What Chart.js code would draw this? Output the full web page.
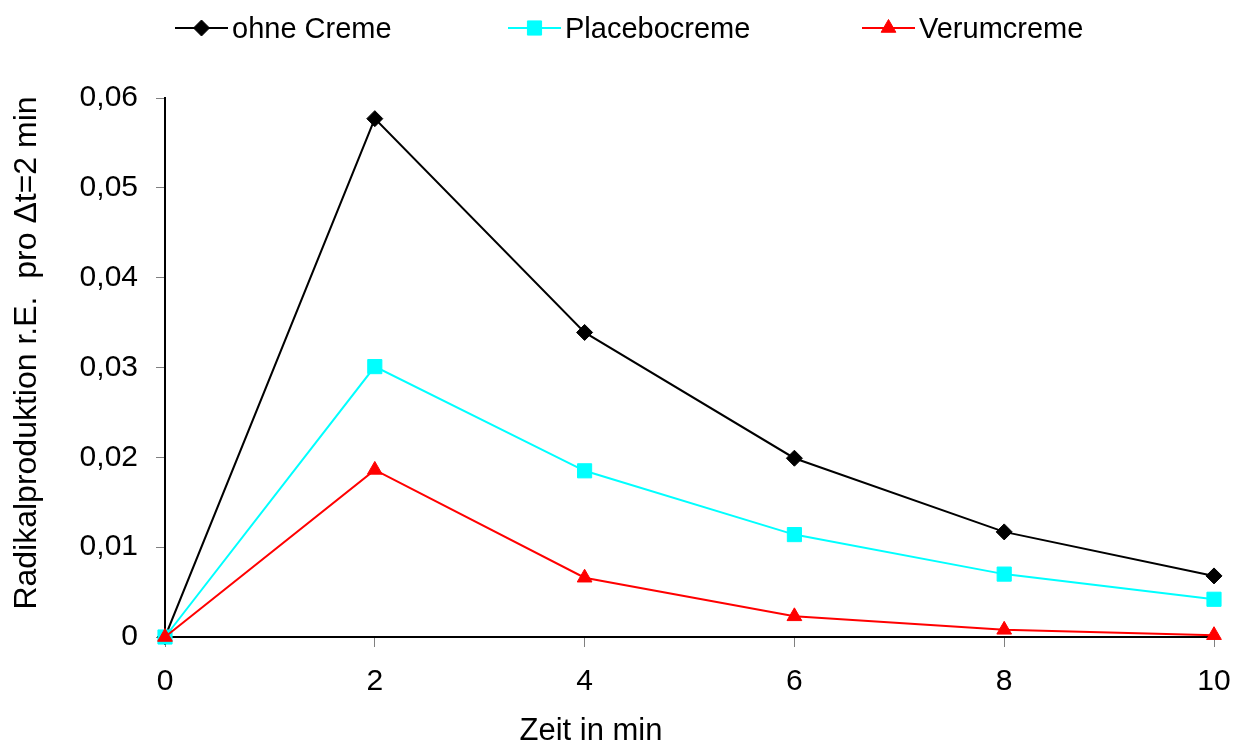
<!DOCTYPE html>
<html>
<head>
<meta charset="utf-8">
<script src="https://cdn.jsdelivr.net/npm/chart.js@4/dist/chart.umd.min.js"></script>
<style>
  html, body { margin: 0; padding: 0; background: #fff; }
  #wrap { width: 1242px; height: 744px; }
</style>
</head>
<body>
<div id="wrap"><canvas id="radChart" width="1242" height="744"></canvas></div>
<script>
// values
var zeit = [0, 2, 4, 6, 8, 10];
var ohneCreme = [0, 0.0577, 0.0339, 0.0199, 0.0117, 0.0068];
var placebocreme = [0, 0.0301, 0.0185, 0.0114, 0.0070, 0.0042];
var verumcreme = [0, 0.0186, 0.0066, 0.0023, 0.0008, 0.0002];
var seriesNames = ['ohne Creme', 'Placebocreme', 'Verumcreme'];
var yTitle = 'Radikalproduktion r.E.  pro \u0394t=2 min';
var xTitle = 'Zeit in min';

var FONT = '"Liberation Sans", Arial, sans-serif';

function toPoints(vals) {
    return vals.map(function (v, i) { return { x: zeit[i], y: v }; });
}

// legend (short line with the marker in the middle) and the axis titles
var extraText = {
    id: 'extraText',
    afterDraw: function (chart) {
        var c = chart.ctx;
        var starts = [175, 508, 862];
        c.save();
        chart.data.datasets.forEach(function (ds, i) {
            var x0 = starts[i], x1 = x0 + 53, y = 28;
            c.strokeStyle = ds.borderColor;
            c.lineWidth = 2;
            c.beginPath();
            c.moveTo(x0, y);
            c.lineTo(x1, y);
            c.stroke();
            c.fillStyle = ds.backgroundColor;
            c.lineWidth = 1;
            Chart.helpers.drawPoint(c, { pointStyle: ds.pointStyle, radius: ds.pointRadius, borderWidth: 1 }, (x0 + x1) / 2, y);
            c.fillStyle = '#000';
            c.font = '29px ' + FONT;
            c.textAlign = 'left';
            c.textBaseline = 'alphabetic';
            c.fillText(ds.label, x1 + 4, 38);
        });
        c.font = '31px ' + FONT;
        c.fillStyle = '#000';
        c.textAlign = 'center';
        c.fillText(xTitle, 591, 740);
        c.translate(36, 353);
        c.rotate(-Math.PI / 2);
        c.font = '32px ' + FONT;
        c.fillText(yTitle, 0, 0);
        c.restore();
    }
};

var ctx = document.getElementById('radChart').getContext('2d');
var radChart = new Chart(ctx, {
    type: 'line',
    data: {
        datasets: [{
            label: seriesNames[0],
            data: toPoints(ohneCreme),
            borderColor: '#000000',
            backgroundColor: '#000000',
            pointStyle: 'rectRot',
            pointRadius: 8,
            order: 3
        }, {
            label: seriesNames[1],
            data: toPoints(placebocreme),
            borderColor: '#00FFFF',
            backgroundColor: '#00FFFF',
            pointStyle: 'rect',
            pointRadius: 10,
            order: 2
        }, {
            label: seriesNames[2],
            data: toPoints(verumcreme),
            borderColor: '#FF0000',
            backgroundColor: '#FF0000',
            pointStyle: 'triangle',
            pointRadius: 8.5,
            order: 1
        }]
    },
    options: {
        responsive: false,
        animation: false,
        devicePixelRatio: 1,
        layout: {
            padding: { left: 0, top: 98, right: 28, bottom: 0 }
        },
        elements: {
            line: { borderWidth: 2, tension: 0 },
            point: { borderWidth: 1 }
        },
        datasets: {
            line: { clip: false }
        },
        plugins: {
            legend: { display: false },
            tooltip: { enabled: false }
        },
        scales: {
            x: {
                type: 'linear',
                min: 0,
                max: 10,
                afterFit: function (scale) {
                    scale.height = 107;
                    scale.paddingLeft = 0;
                    scale.paddingRight = 0;
                },
                border: { display: true, color: '#000', width: 2 },
                grid: {
                    drawOnChartArea: false,
                    tickLength: 10,
                    tickColor: '#808080',
                    tickWidth: 1
                },
                ticks: {
                    stepSize: 2,
                    padding: 17,
                    color: '#000',
                    font: { family: FONT, size: 30 }
                }
            },
            y: {
                min: 0,
                max: 0.06,
                afterFit: function (scale) {
                    scale.width = 165;
                    scale.paddingTop = 0;
                    scale.paddingBottom = 0;
                },
                border: { display: true, color: '#000', width: 2 },
                grid: {
                    drawOnChartArea: false,
                    tickLength: 9,
                    tickColor: '#808080',
                    tickWidth: 1
                },
                ticks: {
                    stepSize: 0.01,
                    padding: 18,
                    color: '#000',
                    font: { family: FONT, size: 30 },
                    callback: function (v) {
                        if (Math.abs(v) < 1e-9) return '0';
                        return v.toFixed(2).replace('.', ',');
                    }
                }
            }
        }
    },
    plugins: [extraText]
});
</script>
</body>
</html>
